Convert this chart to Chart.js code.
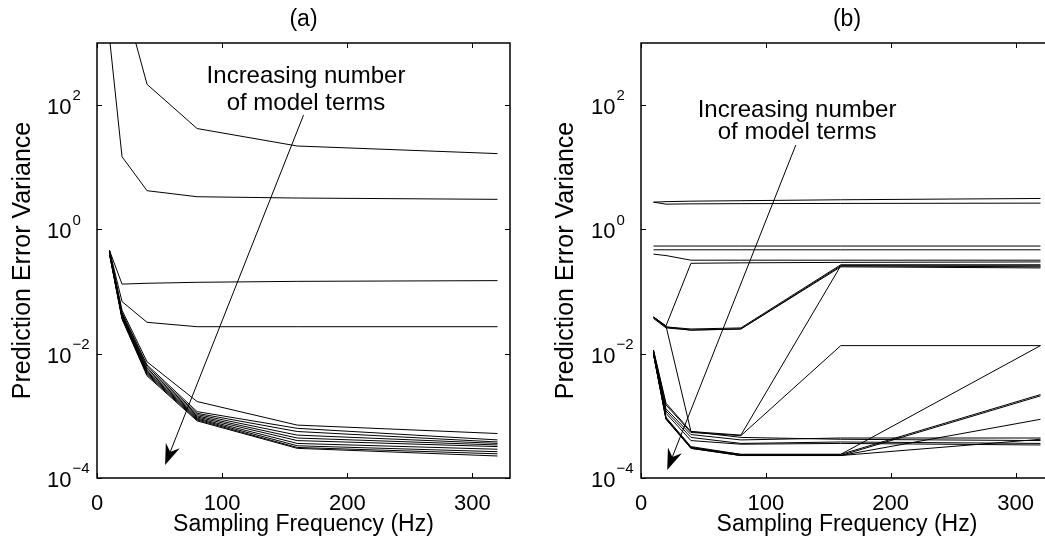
<!DOCTYPE html>
<html>
<head>
<meta charset="utf-8">
<script src="https://cdn.jsdelivr.net/npm/chart.js@4.4.0/dist/chart.umd.min.js"></script>
<style>
  html, body { margin: 0; padding: 0; background: #fff; overflow: hidden; width: 1045px; height: 542px; }
  canvas { position: absolute; top: 0; }
  #panelA { left: 0; }
  #panelB { left: 530px; }
</style>
</head>
<body>
<canvas id="panelA" width="530" height="542"></canvas>
<canvas id="panelB" width="540" height="542"></canvas>
<script>
// Datos
const freqs = [10, 20, 40, 80, 160, 320];
const xTicks = [0, 100, 200, 300];
const yExponents = [-4, -2, 0, 2];
const noteLines = ['Increasing number', 'of model terms'];

// (a) una curva por numero de terminos
const panelASeries = [
    [1e5, 6500, 216, 42, 22, 16.6],
    [1200, 14.8, 4.2, 3.36, 3.2, 3.05],
    [0.46, 0.132, 0.136, 0.141, 0.146, 0.15],
    [0.46, 0.069, 0.032, 0.0272, 0.0272, 0.0272],
    [0.46, 0.050, 0.0074, 0.0017, 7.1e-4, 5.2e-4],
    [0.45, 0.046, 0.0066, 0.00117, 6.3e-4, 4.1e-4],
    [0.44, 0.044, 0.0062, 0.00110, 5.6e-4, 3.8e-4],
    [0.43, 0.042, 0.0058, 0.00105, 4.9e-4, 3.6e-4],
    [0.42, 0.041, 0.0055, 0.00100, 4.4e-4, 3.4e-4],
    [0.42, 0.040, 0.0052, 0.00096, 4.0e-4, 3.2e-4],
    [0.41, 0.039, 0.0050, 0.00092, 3.6e-4, 2.9e-4],
    [0.41, 0.038, 0.0048, 0.00089, 3.3e-4, 2.65e-4],
    [0.40, 0.037, 0.0046, 0.00086, 3.1e-4, 2.45e-4],
    [0.40, 0.036, 0.0044, 0.00083, 3.0e-4, 2.26e-4]
];

// (b)
const panelBSeries = [
    [2.75, 2.8, 2.85, 2.9, 3.0, 3.15],
    [2.75, 2.55, 2.58, 2.6, 2.62, 2.65],
    [0.54, 0.54, 0.54, 0.54, 0.54, 0.54],
    [0.47, 0.47, 0.47, 0.47, 0.47, 0.47],
    [0.40, 0.38, 0.32, 0.32, 0.32, 0.32],
    [0.039, 0.028, 0.285, 0.29, 0.295, 0.30],
    [0.039, 0.027, 0.025, 0.026, 0.27, 0.27],
    [0.038, 0.027, 0.024, 0.025, 0.26, 0.25],
    [0.037, 0.026, 0.024, 0.025, 0.25, 0.24],
    [0.039, 0.028, 0.00056, 0.00045, 0.00042, 0.00040],
    [0.0115, 0.0016, 0.00056, 0.00049, 0.26, 0.26],
    [0.0113, 0.0015, 0.00054, 0.00048, 0.0135, 0.0135],
    [0.011, 0.0013, 0.00050, 0.00041, 0.00044, 0.00044],
    [0.0108, 0.0012, 0.00045, 0.00036, 0.00038, 0.00036],
    [0.0105, 0.0011, 0.00040, 0.00035, 0.00036, 0.00034],
    [0.0102, 0.00095, 0.00032, 0.00024, 0.00024, 0.0135],
    [0.010, 0.00092, 0.00031, 0.00024, 0.00024, 0.0022],
    [0.010, 0.00090, 0.00031, 0.00023, 0.00023, 0.0021],
    [0.0098, 0.00090, 0.00030, 0.00023, 0.00023, 0.00088],
    [0.0098, 0.00088, 0.00030, 0.00023, 0.00023, 0.00042]
];

const FONT = 'Liberation Sans, Arial, Helvetica, sans-serif';

// Marco, marcas hacia dentro, etiquetas 10^n, titulo y flecha
const matlabAxes = {
    id: 'matlabAxes',
    afterDraw(chart, args, opts) {
        const { ctx, chartArea: a, scales: { x, y } } = chart;
        ctx.save();
        ctx.strokeStyle = '#000';
        ctx.fillStyle = '#000';

        // caja
        ctx.lineWidth = 1.5;
        ctx.strokeRect(a.left, a.top, a.right - a.left, a.bottom - a.top);

        // marcas
        ctx.lineWidth = 1;
        const tl = 5;
        ctx.beginPath();
        xTicks.forEach(v => {
            const px = Math.round(x.getPixelForValue(v)) + 0.5;
            ctx.moveTo(px, a.bottom); ctx.lineTo(px, a.bottom - tl);
            ctx.moveTo(px, a.top); ctx.lineTo(px, a.top + tl);
        });
        yExponents.forEach(e => {
            const py = Math.round(y.getPixelForValue(Math.pow(10, e))) + 0.5;
            ctx.moveTo(a.left, py); ctx.lineTo(a.left + tl, py);
            ctx.moveTo(a.right, py); ctx.lineTo(a.right - tl, py);
        });
        ctx.stroke();

        // etiquetas del eje y
        ctx.textAlign = 'left';
        ctx.textBaseline = 'middle';
        yExponents.forEach(e => {
            const py = y.getPixelForValue(Math.pow(10, e));
            const lx = a.left - 50;
            ctx.font = '22px ' + FONT;
            ctx.fillText('10', lx, py + 3);
            const w = ctx.measureText('10').width;
            ctx.font = '15px ' + FONT;
            ctx.fillText(e < 0 ? '\u2212' + (-e) : String(e), lx + w + 1, py - 9);
        });

        // titulo
        ctx.font = '23px ' + FONT;
        ctx.textAlign = 'center';
        ctx.fillText(opts.title, (a.left + a.right) / 2, 20);

        // texto de la anotacion
        ctx.textBaseline = 'alphabetic';
        ctx.font = '24px ' + FONT;
        const tx = x.getPixelForValue(opts.noteX);
        noteLines.forEach((t, i) => {
            ctx.fillText(t, tx, y.getPixelForValue(opts.noteY[i]));
        });

        // flecha
        const sx = x.getPixelForValue(opts.arrowFrom[0]);
        const sy = y.getPixelForValue(opts.arrowFrom[1]);
        const ex = x.getPixelForValue(opts.arrowTo[0]);
        const ey = y.getPixelForValue(opts.arrowTo[1]);
        const len = Math.hypot(ex - sx, ey - sy);
        const dx = (ex - sx) / len, dy = (ey - sy) / len;
        const nx = -dy, ny = dx;
        const L = 21, W = 7.5, N = 14;
        ctx.beginPath();
        ctx.moveTo(sx, sy);
        ctx.lineTo(ex - dx * N, ey - dy * N);
        ctx.stroke();
        ctx.beginPath();
        ctx.moveTo(ex, ey);
        ctx.lineTo(ex - dx * L + nx * W, ey - dy * L + ny * W);
        ctx.lineTo(ex - dx * N, ey - dy * N);
        ctx.lineTo(ex - dx * L - nx * W, ey - dy * L - ny * W);
        ctx.closePath();
        ctx.fill();
        ctx.restore();
    }
};

function makePanel(id, series, yWidth, rightPad, titlePad, extra) {
    const ctx = document.getElementById(id).getContext('2d');
    return new Chart(ctx, {
        type: 'line',
        data: {
            labels: freqs,
            datasets: series.map(s => ({
                data: s.map((v, i) => ({ x: freqs[i], y: v })),
                borderColor: '#000',
                borderWidth: 1,
                pointRadius: 0,
                fill: false,
                tension: 0
            }))
        },
        options: {
            responsive: false,
            animation: false,
            layout: { padding: { top: 43, right: rightPad, left: 0, bottom: 0 } },
            plugins: {
                legend: { display: false },
                tooltip: { enabled: false },
                matlabAxes: extra
            },
            scales: {
                x: {
                    type: 'linear',
                    min: 0,
                    max: 330,
                    afterBuildTicks: s => { s.ticks = xTicks.map(v => ({ value: v })); },
                    afterFit: s => { s.height = 64; },
                    grid: { display: false },
                    border: { display: false },
                    ticks: { color: '#000', padding: 5, maxRotation: 0, font: { family: FONT, size: 22 } },
                    title: {
                        display: true,
                        text: 'Sampling Frequency (Hz)',
                        color: '#000',
                        padding: { top: 0, bottom: 4 },
                        font: { family: FONT, size: 23 }
                    }
                },
                y: {
                    type: 'logarithmic',
                    min: 1e-4,
                    max: 1e3,
                    afterBuildTicks: s => { s.ticks = yExponents.map(e => ({ value: Math.pow(10, e) })); },
                    afterFit: s => { s.width = yWidth; },
                    grid: { display: false },
                    border: { display: false },
                    ticks: { display: false },
                    title: {
                        display: true,
                        text: 'Prediction Error Variance',
                        color: '#000',
                        padding: { top: titlePad, bottom: 0 },
                        font: { family: FONT, size: 25 }
                    }
                }
            }
        },
        plugins: [matlabAxes]
    });
}

document.addEventListener('DOMContentLoaded', function () {
    makePanel('panelA', panelASeries, 97, 20, 8, {
        title: '(a)',
        noteX: 167, noteY: [225, 84],
        arrowFrom: [165, 69], arrowTo: [54.4, 1.62e-4]
    });
    makePanel('panelB', panelBSeries, 111, 17, 21, {
        title: '(b)',
        noteX: 125, noteY: [64, 28],
        arrowFrom: [124, 22.8], arrowTo: [21, 1.35e-4]
    });
});
</script>
</body>
</html>
